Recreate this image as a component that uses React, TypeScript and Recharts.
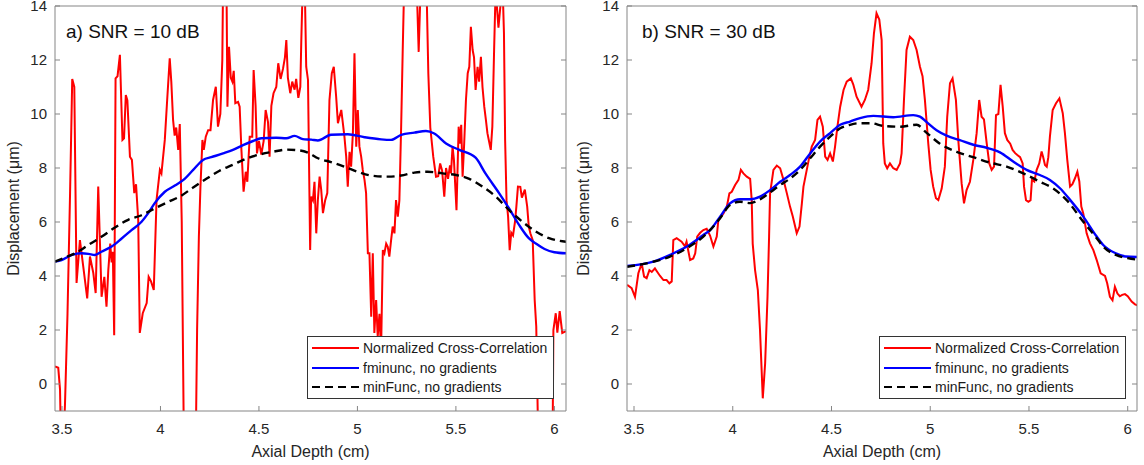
import { LineChart, Line, XAxis, YAxis, Legend } from 'recharts'

// [axial depth (cm), displacement (um)]
// panel a) SNR = 10 dB
const nccA = [
  [3.465, 0.65], [3.481, 0.6], [3.49, -0.2], [3.497, -3], [3.505, -2.5], [3.515, -0.8], [3.528, 2.6], [3.541, 7.07],
  [3.552, 11.3], [3.5625, 11.0], [3.574, 3.74], [3.591, 5.33], [3.608, 4.35], [3.628, 3.17], [3.642, 4.72], [3.659, 4.11],
  [3.671, 3.37], [3.684, 7.31], [3.701, 3.23], [3.715, 3.97], [3.726, 2.86], [3.735, 4.2], [3.745, 5.2], [3.752, 4.5],
  [3.758, 4.9], [3.765, 1.81], [3.772, 11.32], [3.782, 11.4], [3.794, 12.19], [3.807, 9.04], [3.815, 9.1], [3.824, 10.7],
  [3.832, 10.5], [3.845, 8.42], [3.855, 8.3], [3.867, 7.07], [3.876, 7.4], [3.887, 6.07], [3.895, 1.89], [3.91, 2.62],
  [3.93, 3.0], [3.94, 3.97], [3.952, 3.8], [3.966, 3.48], [3.98, 6.81], [3.997, 7.93], [4.005, 7.8], [4.022, 9.04],
  [4.034, 10.52], [4.047, 12.06], [4.055, 11.2], [4.064, 9.78], [4.072, 9.2], [4.08, 9.5], [4.09, 8.67], [4.098, 9.63],
  [4.108, 6.0], [4.12, -3], [4.178, -3], [4.186, 2.0], [4.195, 5.46], [4.203, 7.31], [4.213, 9.04], [4.22, 8.67],
  [4.23, 9.16], [4.242, 9.4], [4.254, 9.4], [4.267, 10.52], [4.281, 11.01], [4.292, 9.53], [4.304, 10.0], [4.314, 12.0],
  [4.318, 15], [4.335, 15], [4.34, 10.27], [4.348, 12.49], [4.357, 11.34], [4.365, 11.2], [4.372, 11.6], [4.38, 10.4],
  [4.394, 10.45], [4.402, 10.27], [4.411, 8.67], [4.422, 7.12], [4.433, 7.86], [4.441, 7.49], [4.453, 9.16], [4.466, 9.16],
  [4.473, 11.63], [4.483, 10.3], [4.49, 8.54], [4.5, 9.0], [4.512, 8.5], [4.524, 9.0], [4.534, 10.15], [4.546, 9.7],
  [4.554, 8.42], [4.563, 10.3], [4.574, 10.77], [4.588, 11.0], [4.598, 11.88], [4.61, 11.3], [4.622, 11.67], [4.632, 12.1],
  [4.639, 12.74], [4.647, 11.34], [4.659, 10.77], [4.669, 11.2], [4.681, 10.9], [4.689, 11.3], [4.7, 10.6], [4.71, 11.0],
  [4.715, 12.7], [4.723, 15], [4.732, 15], [4.74, 11.75], [4.749, 11.26], [4.76, 4.96], [4.765, 6.94], [4.774, 6.8],
  [4.782, 7.49], [4.791, 5.58], [4.799, 6.8], [4.808, 7.68], [4.816, 7.2], [4.825, 6.33], [4.836, 6.8], [4.847, 7.07],
  [4.858, 10.52], [4.87, 11.51], [4.88, 11.75], [4.892, 10.64], [4.901, 9.66], [4.909, 9.9], [4.918, 10.15], [4.926, 9.66],
  [4.934, 9.16], [4.943, 8.42], [4.951, 7.31], [4.96, 8.6], [4.968, 8.05], [4.977, 9.3], [4.985, 12.25], [4.994, 8.79],
  [5.002, 10.15], [5.01, 8.8], [5.019, 8.42], [5.027, 7.93], [5.036, 7.56], [5.044, 7.07], [5.053, 4.84], [5.061, 4.84],
  [5.07, 2.49], [5.078, 4.84], [5.086, 1.89], [5.095, 3.11], [5.103, 1.75], [5.112, 2.6], [5.12, 1.2], [5.129, 4.96],
  [5.137, 4.84], [5.146, 5.2], [5.154, 5.08], [5.162, 4.72], [5.171, 5.33], [5.179, 5.83], [5.188, 5.58], [5.196, 6.81],
  [5.205, 6.2], [5.213, 6.8], [5.222, 9.53], [5.23, 12.37], [5.238, 15], [5.3, 15], [5.311, 12.3], [5.322, 15],
  [5.35, 15], [5.36, 11.5], [5.37, 9.5], [5.385, 8.42], [5.399, 7.68], [5.41, 7.7], [5.42, 8.17], [5.43, 7.9],
  [5.441, 6.94], [5.45, 8.0], [5.46, 7.6], [5.47, 8.1], [5.475, 7.8], [5.483, 8.79], [5.49, 8.3], [5.503, 6.44],
  [5.514, 9.53], [5.52, 8.9], [5.527, 9.6], [5.534, 7.68], [5.542, 8.9], [5.551, 10.52], [5.56, 11.51], [5.568, 11.75],
  [5.576, 13.23], [5.585, 12.37], [5.592, 12.1], [5.6, 10.89], [5.61, 11.75], [5.618, 11.2], [5.627, 12.12], [5.635, 11.0],
  [5.644, 10.27], [5.652, 9.8], [5.66, 9.29], [5.668, 9.0], [5.677, 8.67], [5.685, 9.53], [5.694, 12.37], [5.703, 15],
  [5.708, 14.0], [5.716, 13.2], [5.726, 14.0], [5.736, 15], [5.744, 13.0], [5.75, 9.0], [5.757, 6.81], [5.765, 6.2],
  [5.773, 4.96], [5.781, 5.6], [5.79, 5.5], [5.8, 6.0], [5.807, 6.57], [5.815, 7.31], [5.827, 7.3], [5.835, 6.9],
  [5.85, 7.2], [5.862, 6.57], [5.87, 5.83], [5.878, 5.58], [5.89, 5.33], [5.9, 3.11], [5.908, 2.12], [5.92, -3],
  [5.99, -3], [5.995, 2.0], [6.007, 2.62], [6.015, 1.9], [6.027, 2.7], [6.04, 1.89], [6.058, 1.95],
]
const fminA = [
  [3.465, 4.53], [3.498, 4.59], [3.55, 4.78], [3.6, 4.84], [3.634, 4.82], [3.667, 4.78], [3.7, 4.9], [3.752, 5.09],
  [3.803, 5.39], [3.853, 5.7], [3.904, 6.01], [3.937, 6.32], [3.97, 6.69], [4.022, 7.12], [4.073, 7.35], [4.123, 7.6],
  [4.166, 7.93], [4.216, 8.3], [4.258, 8.4], [4.318, 8.54], [4.368, 8.67], [4.419, 8.85], [4.47, 9.0], [4.512, 9.1],
  [4.588, 9.12], [4.639, 9.1], [4.681, 9.19], [4.723, 9.07], [4.766, 9.05], [4.799, 9.02], [4.866, 9.23], [4.951, 9.25],
  [5.036, 9.14], [5.12, 9.06], [5.171, 9.04], [5.222, 9.23], [5.289, 9.31], [5.348, 9.37], [5.39, 9.28], [5.45, 8.91],
  [5.517, 8.67], [5.6, 8.38], [5.65, 7.8], [5.72, 7.06], [5.77, 6.5], [5.82, 5.9], [5.87, 5.4], [5.906, 5.2],
  [5.95, 5.0], [6.0, 4.88], [6.06, 4.84],
]
const minfA = [
  [3.465, 4.53], [3.52, 4.7], [3.566, 4.84], [3.634, 5.15], [3.7, 5.45], [3.769, 5.8], [3.836, 6.08], [3.904, 6.25],
  [3.97, 6.5], [4.04, 6.75], [4.1, 6.95], [4.166, 7.28], [4.233, 7.6], [4.3, 7.9], [4.368, 8.12], [4.436, 8.35],
  [4.503, 8.5], [4.571, 8.6], [4.639, 8.68], [4.706, 8.65], [4.757, 8.54], [4.8, 8.36], [4.866, 8.22], [4.934, 8.05],
  [5.002, 7.86], [5.07, 7.72], [5.154, 7.68], [5.222, 7.72], [5.289, 7.83], [5.356, 7.86], [5.433, 7.8], [5.5, 7.74],
  [5.568, 7.6], [5.635, 7.31], [5.703, 6.94], [5.77, 6.44], [5.838, 6.01], [5.905, 5.65], [5.973, 5.4], [6.06, 5.27],
]

// panel b) SNR = 30 dB
const nccB = [
  [3.465, 3.67], [3.488, 3.55], [3.505, 3.23], [3.522, 4.1], [3.539, 4.47], [3.551, 3.98], [3.564, 3.92], [3.578, 4.22],
  [3.59, 4.15], [3.606, 4.28], [3.618, 4.15], [3.632, 4.0], [3.649, 3.85], [3.665, 3.85], [3.679, 3.73], [3.691, 3.8],
  [3.699, 5.33], [3.716, 5.4], [3.741, 5.27], [3.758, 5.1], [3.766, 5.27], [3.784, 4.59], [3.8, 4.65], [3.81, 4.84],
  [3.82, 5.46], [3.835, 5.6], [3.851, 5.7], [3.868, 5.75], [3.885, 5.5], [3.902, 5.09], [3.919, 5.46], [3.927, 6.07],
  [3.953, 6.32], [3.97, 6.57], [3.983, 7.06], [3.995, 7.12], [4.012, 7.37], [4.029, 7.56], [4.041, 7.93], [4.054, 7.8],
  [4.071, 7.68], [4.088, 7.6], [4.096, 6.81], [4.101, 5.2], [4.113, 4.22], [4.127, 3.48], [4.138, 2.0], [4.152, -0.53],
  [4.164, 0.77], [4.176, 3.23], [4.184, 5.46], [4.189, 7.06], [4.206, 7.93], [4.223, 8.09], [4.24, 7.99], [4.257, 7.56],
  [4.274, 7.06], [4.29, 6.57], [4.304, 6.2], [4.316, 5.83], [4.324, 5.58], [4.338, 5.83], [4.35, 6.69], [4.358, 7.31],
  [4.368, 7.68], [4.378, 8.05], [4.388, 8.42], [4.4, 8.79], [4.417, 9.04], [4.429, 9.78], [4.442, 9.9], [4.456, 9.53],
  [4.468, 8.42], [4.48, 8.3], [4.493, 8.54], [4.507, 8.24], [4.518, 8.79], [4.53, 9.53], [4.544, 10.27], [4.561, 10.89],
  [4.577, 11.2], [4.598, 11.32], [4.61, 11.1], [4.627, 10.64], [4.652, 10.27], [4.669, 10.52], [4.686, 10.9], [4.703, 11.88],
  [4.715, 12.99], [4.728, 13.73], [4.742, 13.5], [4.754, 12.74], [4.762, 8.91], [4.77, 8.17], [4.782, 7.99], [4.796, 8.17],
  [4.813, 7.99], [4.83, 7.93], [4.847, 8.17], [4.855, 8.54], [4.867, 10.52], [4.88, 12.37], [4.897, 12.86], [4.914, 12.74],
  [4.931, 12.37], [4.948, 11.75], [4.961, 11.4], [4.973, 10.52], [4.99, 8.91], [5.002, 7.93], [5.015, 7.31], [5.029, 6.88],
  [5.041, 6.81], [5.058, 7.24], [5.074, 8.05], [5.086, 9.9], [5.1, 11.14], [5.113, 11.32], [5.13, 10.52], [5.142, 9.04],
  [5.159, 7.43], [5.171, 6.69], [5.184, 7.18], [5.201, 7.49], [5.218, 8.3], [5.235, 9.29], [5.248, 10.52], [5.26, 9.9],
  [5.272, 9.8], [5.286, 8.91], [5.299, 8.17], [5.311, 7.93], [5.323, 8.05], [5.333, 9.96], [5.345, 10.0], [5.356, 11.08],
  [5.367, 10.27], [5.378, 9.29], [5.39, 9.04], [5.405, 8.9], [5.417, 8.67], [5.43, 8.55], [5.441, 8.48], [5.455, 8.4],
  [5.468, 8.17], [5.475, 7.31], [5.485, 6.81], [5.497, 6.75], [5.508, 6.81], [5.515, 7.56], [5.527, 7.5], [5.539, 7.93],
  [5.552, 8.17], [5.564, 8.61], [5.572, 8.4], [5.581, 8.11], [5.59, 8.05], [5.598, 8.4], [5.606, 9.16], [5.62, 10.15],
  [5.637, 10.4], [5.654, 10.58], [5.671, 10.03], [5.682, 9.29], [5.694, 8.3], [5.708, 7.31], [5.72, 7.4], [5.733, 7.62],
  [5.745, 7.86], [5.755, 7.5], [5.765, 6.57], [5.775, 6.32], [5.792, 5.58], [5.809, 5.21], [5.826, 4.96], [5.843, 4.59],
  [5.863, 4.1], [5.885, 4.0], [5.896, 3.73], [5.91, 3.23], [5.923, 3.1], [5.935, 3.6], [5.948, 3.35], [5.96, 3.25],
  [5.972, 3.3], [5.986, 3.33], [6.0, 3.25], [6.02, 3.05], [6.037, 2.95], [6.054, 2.9],
]
const fminB = [
  [3.465, 4.37], [3.598, 4.53], [3.682, 4.78], [3.767, 5.09], [3.851, 5.52], [3.885, 5.7], [3.936, 6.2], [3.986, 6.69],
  [4.037, 6.84], [4.088, 6.84], [4.138, 6.94], [4.189, 7.18], [4.24, 7.49], [4.29, 7.74], [4.341, 8.05], [4.392, 8.54],
  [4.442, 8.98], [4.493, 9.29], [4.544, 9.6], [4.594, 9.72], [4.645, 9.85], [4.712, 9.93], [4.813, 9.88], [4.914, 9.96],
  [4.948, 9.9], [4.982, 9.7], [5.032, 9.4], [5.083, 9.2], [5.15, 9.03], [5.218, 8.86], [5.286, 8.75], [5.353, 8.58],
  [5.42, 8.24], [5.488, 7.93], [5.555, 7.74], [5.606, 7.56], [5.657, 7.25], [5.708, 6.82], [5.775, 6.2], [5.843, 5.46],
  [5.876, 5.15], [5.94, 4.84], [5.99, 4.72], [6.054, 4.7],
]
const minfB = [
  [3.465, 4.34], [3.598, 4.53], [3.682, 4.72], [3.767, 5.03], [3.851, 5.46], [3.885, 5.7], [3.936, 6.14], [3.986, 6.63],
  [4.037, 6.75], [4.088, 6.7], [4.138, 6.84], [4.189, 7.1], [4.24, 7.37], [4.29, 7.61], [4.341, 7.93], [4.392, 8.36],
  [4.442, 8.79], [4.493, 9.16], [4.544, 9.47], [4.594, 9.6], [4.645, 9.66], [4.7, 9.66], [4.762, 9.56], [4.847, 9.53],
  [4.931, 9.6], [4.982, 9.3], [5.049, 8.9], [5.134, 8.6], [5.218, 8.4], [5.302, 8.2], [5.387, 8.05], [5.471, 7.8],
  [5.556, 7.49], [5.623, 7.24], [5.691, 6.81], [5.775, 6.01], [5.843, 5.4], [5.876, 5.09], [5.94, 4.78], [6.0, 4.66],
  [6.054, 4.6],
]

const xTicks = [3.5, 4, 4.5, 5, 5.5, 6]
const yTicks = [0, 2, 4, 6, 8, 10, 12, 14]

const AXIS = '#858585'
const TEXT = '#262626'
const FONT = '"Liberation Sans", Arial, sans-serif'

const toPoints = (pts: number[][]) => pts.map(([x, y]) => ({ x, y }))

function LegendBox({ payload }: any) {
  return (
    <div
      style={{
        width: 247,
        height: 63,
        boxSizing: 'border-box',
        border: '1px solid #333',
        background: '#fff',
        paddingTop: 1,
        fontSize: 14,
        color: '#1a1a1a',
        fontFamily: FONT,
      }}
    >
      {(payload || []).map((entry: any) => (
        <div key={entry.value} style={{ display: 'flex', alignItems: 'center', height: 19.7 }}>
          <svg width={55} height={6} style={{ flex: 'none' }}>
            <line
              x1={4}
              y1={3}
              x2={51}
              y2={3}
              stroke={entry.color}
              strokeWidth={2.2}
              strokeDasharray={entry.payload?.strokeDasharray}
            />
          </svg>
          <span style={{ whiteSpace: 'nowrap' }}>{entry.value}</span>
        </div>
      ))}
    </div>
  )
}

function Panel({ left, title, titleLeft, xMax, marginRight, yLabelOffset, ncc, fmin, minf }: any) {
  const domainX = [3.4645, xMax]
  return (
    <div style={{ position: 'absolute', left, top: 0, width: 572, height: 465, fontFamily: FONT }}>
      <LineChart width={572} height={465} margin={{ top: 5, right: marginRight, bottom: 0, left: 0 }}>
        <XAxis
          type="number"
          dataKey="x"
          domain={domainX}
          allowDataOverflow
          ticks={xTicks}
          interval={0}
          height={54}
          tickSize={-5}
          tickMargin={17}
          stroke={AXIS}
          tick={{ fontSize: 15, fill: TEXT }}
          label={{ value: 'Axial Depth (cm)', position: 'insideBottom', offset: 8, style: { fontSize: 16, fill: TEXT } }}
        />
        <XAxis
          xAxisId="top"
          orientation="top"
          type="number"
          domain={domainX}
          allowDataOverflow
          ticks={xTicks}
          interval={0}
          height={1}
          tickSize={-5}
          stroke={AXIS}
          tickFormatter={() => ''}
        />
        <YAxis
          type="number"
          domain={[-1, 14]}
          allowDataOverflow
          ticks={yTicks}
          interval={0}
          width={55}
          tickSize={-5}
          tickMargin={13}
          stroke={AXIS}
          tick={{ fontSize: 15, fill: TEXT }}
          label={{
            value: 'Displacement (μm)',
            angle: -90,
            position: 'insideLeft',
            offset: yLabelOffset,
            style: { textAnchor: 'middle', fontSize: 16, fill: TEXT },
          }}
        />
        <YAxis
          yAxisId="right"
          orientation="right"
          type="number"
          domain={[-1, 14]}
          allowDataOverflow
          ticks={yTicks}
          interval={0}
          width={1}
          tickSize={-5}
          stroke={AXIS}
          tickFormatter={() => ''}
        />
        <Legend
          verticalAlign="middle"
          align="center"
          content={<LegendBox />}
          wrapperStyle={{ left: 307, top: 336, width: 247, height: 63 }}
        />
        <Line
          data={toPoints(ncc)}
          dataKey="y"
          name="Normalized Cross-Correlation"
          type="linear"
          stroke="#ff0000"
          strokeWidth={2}
          dot={false}
          activeDot={false}
          isAnimationActive={false}
        />
        <Line
          data={toPoints(fmin)}
          dataKey="y"
          name="fminunc, no gradients"
          type="monotone"
          stroke="#0000ff"
          strokeWidth={2.4}
          dot={false}
          activeDot={false}
          isAnimationActive={false}
        />
        <Line
          data={toPoints(minf)}
          dataKey="y"
          name="minFunc, no gradients"
          type="monotone"
          stroke="#000000"
          strokeWidth={2.4}
          strokeDasharray="8 5"
          dot={false}
          activeDot={false}
          isAnimationActive={false}
        />
      </LineChart>
      <div
        style={{
          position: 'absolute',
          left: titleLeft,
          top: 22,
          fontSize: 19,
          lineHeight: '19px',
          color: '#111',
          whiteSpace: 'nowrap',
        }}
      >
        {title}
      </div>
    </div>
  )
}

export default function App() {
  return (
    <div style={{ position: 'absolute', left: 0, top: 0, width: 1144, height: 465, background: '#fff' }}>
      <Panel
        left={0}
        title="a) SNR = 10 dB"
        titleLeft={66}
        xMax={6.059}
        marginRight={5}
        yLabelOffset={13}
        ncc={nccA}
        fmin={fminA}
        minf={minfA}
      />
      <Panel
        left={572}
        title="b) SNR = 30 dB"
        titleLeft={70}
        xMax={6.047}
        marginRight={6}
        yLabelOffset={11}
        ncc={nccB}
        fmin={fminB}
        minf={minfB}
      />
    </div>
  )
}
